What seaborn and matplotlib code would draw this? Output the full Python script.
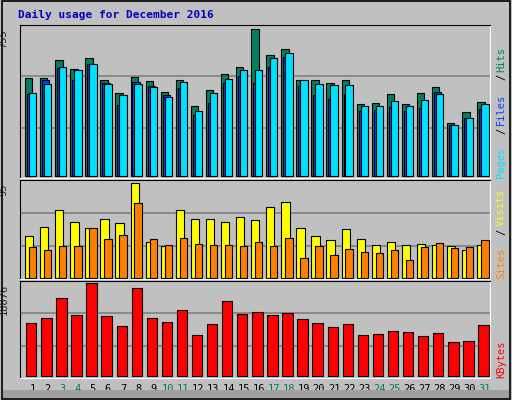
import matplotlib
matplotlib.use("Agg")
import matplotlib.pyplot as plt
import seaborn as sns
import numpy as np
from matplotlib.patches import Rectangle

days = list(range(1, 32))
weekend = [3, 4, 10, 11, 17, 18, 24, 25, 31]
hits = [503, 503, 595, 549, 606, 492, 426, 508, 487, 431, 492, 359, 441, 523, 559, 755,
        621, 652, 492, 492, 477, 492, 369, 374, 420, 369, 426, 456, 271, 328, 379]
files = [426, 472, 559, 544, 575, 472, 415, 472, 456, 405, 482, 333, 426, 498, 544, 544,
         606, 631, 492, 472, 467, 467, 359, 359, 384, 359, 390, 420, 261, 297, 369]
pages = [420, 492, 554, 492, 575, 477, 364, 482, 462, 415, 451, 312, 374, 477, 513, 477,
         559, 611, 462, 415, 395, 420, 333, 338, 353, 333, 348, 431, 261, 297, 343]
sites = [42, 51, 68, 56, 50, 59, 55, 95, 36, 32, 68, 59, 59, 56, 61, 58,
         71, 76, 50, 42, 38, 49, 39, 33, 36, 33, 34, 33, 32, 28, 33]
visits = [31, 28, 32, 32, 50, 39, 43, 75, 39, 33, 40, 34, 33, 33, 32, 36,
          32, 40, 20, 32, 23, 29, 26, 25, 28, 18, 31, 35, 30, 31, 38]
kbytes = [10786, 11823, 15971, 12445, 18876, 12238, 10164, 17838, 11823, 10993, 13482,
          8297, 10578, 15349, 12653, 13067, 12445, 12860, 11616, 10786, 9956, 10578,
          8297, 8504, 9126, 8919, 8089, 8712, 7052, 7260, 10371]

sns.set_style("white")
plt.rcParams["font.family"] = ["DejaVu Sans Mono"]
bg = "#C0C0C0"
fig = plt.figure(figsize=(5.12, 4.0), dpi=100, facecolor=bg)
fig.patches.append(Rectangle((0.003, 0.003), 0.994, 0.994, transform=fig.transFigure,
                             fill=False, edgecolor="black", lw=1.2))
fig.patches.append(Rectangle((0.006, 0.006), 0.988, 0.02, transform=fig.transFigure,
                             facecolor="#A0A0A0", edgecolor="none"))

x = np.arange(31)
L, W = 0.040, 0.918
ax1 = fig.add_axes([L, 0.555, W, 0.3825], facecolor=bg)
ax2 = fig.add_axes([L, 0.3025, W, 0.247], facecolor=bg)
ax3 = fig.add_axes([L, 0.056, W, 0.2425], facecolor=bg)

def frame(ax, top):
    ax.set_xlim(-0.3, 30.88)
    ax.set_ylim(-0.014 * top, 1.03 * top)
    for f in (0.33, 0.68):
        ax.axhline(f * top, color="#808080", lw=1.2, zorder=0)
    ax.set_xticks([])
    ax.set_yticks([])
    for s in ax.spines.values():
        s.set_color("black")
    ax.spines["right"].set_color("white")
    ax.spines["bottom"].set_color("white")
    ax.text(-0.025, 1.0 - 0.03 * top / top, f"{top}", transform=ax.transAxes, rotation=90,
            ha="right", va="top", fontsize=7.5)

kw = dict(align="edge", edgecolor="black", linewidth=0.8)
ax1.bar(x, hits, width=0.49, color="#008060", **kw)
ax1.bar(x + 0.13, pages, width=0.49, color="#0040FF", **kw)
ax1.bar(x + 0.26, files, width=0.49, color="#00E0FF", **kw)
frame(ax1, 755)

ax2.bar(x, sites, width=0.55, color="#FFFF00", **kw)
ax2.bar(x + 0.26, visits, width=0.49, color="#FF8000", **kw)
frame(ax2, 95)

sns.barplot(x=x + 0.415, y=kbytes, native_scale=True, width=0.69, color="#FF0000",
            saturation=1, edgecolor="black", linewidth=0.8, ax=ax3)
frame(ax3, 18876)
ax3.set_xlabel("")

for d in days:
    ax3.text(d - 1 + 0.5, -0.12, str(d), transform=ax3.get_xaxis_transform(),
             ha="center", va="center", fontsize=7.5,
             color="#008040" if d in weekend else "black")

def side(ax, parts):
    y = 0.0
    for txt, col in parts:
        t = ax.text(1.012, y, txt, transform=ax.transAxes, rotation=90, ha="left",
                    va="bottom", fontsize=7.5, color=col)
        y += len(txt) * 0.058 * (153 / ax.bbox.height * 0.0 + 1) * (0.3825 / ax.get_position().height)
side(ax1, [("Pages", "#00E0FF"), ("/", "black"), ("Files", "#0040FF"), ("/", "black"), ("Hits", "#008060")])
side(ax2, [("Sites", "#FF8000"), ("/", "black"), ("Visits", "#FFFF00")])
side(ax3, [("KBytes", "#FF0000")])

fig.text(0.035, 0.962, "Daily usage for December 2016", color="#0000C0",
         fontsize=8, fontweight="bold", ha="left", va="center")
fig.savefig("out.png", dpi=100, facecolor=bg)
